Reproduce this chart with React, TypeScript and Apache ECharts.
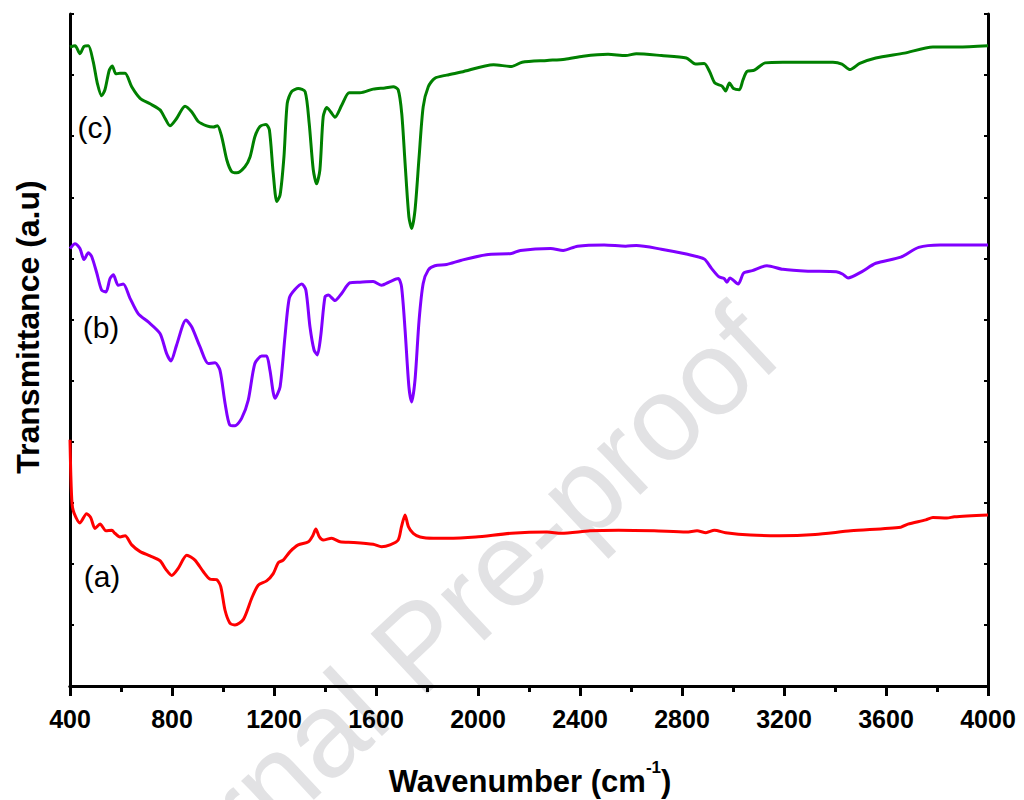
import React, { useEffect, useRef } from "react";
import * as echarts from "echarts";

// ---- data (wavenumber in cm^-1, transmittance in a.u.) ----
const waveC = [400,420,439,455,472,491,507,524,537,554,566,580,596,616,642,675,714,753,773,792,818,851,877,903,936,962,978,995,1015,1034,1054,1086,1106,1125,1145,1169,1182,1197,1211,1224,1239,1252,1269,1295,1322,1338,1354,1367,1380,1393,1407,1422,1439,1466,1495,1537,1589,1635,1668,1687,1701,1714,1729,1740,1753,1769,1785,1805,1831,1877,1935,2061,2131,2173,2271,2341,2412,2510,2579,2621,2719,2817,2853,2887,2908,2929,2957,2971,2986,3002,3025,3039,3055,3084,3126,3196,3322,3392,3427,3459,3497,3560,3672,3784,3882,4000];
const transC = [104.6,104.8,103.5,104.7,104.8,102.2,98.7,96.6,97.6,100.8,101.5,100.2,100.3,100.3,98.1,96.2,95.3,94.3,92.9,91.7,92.9,94.9,94.0,92.4,91.7,91.5,91.7,89.9,86.1,84.2,84.0,85.0,86.6,89.9,91.6,91.9,91.0,83.9,79.3,80.4,86.6,95.4,97.3,97.8,97.3,92.1,84.5,82.2,84.5,93.2,94.7,94.0,93.1,95.1,97.1,97.1,97.7,97.9,98.1,97.6,93.7,85.6,76.8,74.9,77.9,86.6,94.8,98.1,99.5,100.0,100.5,101.7,101.4,102.1,102.4,102.6,103.1,103.4,103.2,103.5,103.2,102.8,101.8,101.9,100.6,98.7,98.2,97.4,98.7,97.8,97.6,99.2,100.6,100.8,102.0,102.1,102.1,102.1,101.8,100.9,101.9,102.8,103.6,104.6,104.6,104.8];

const waveB = [400,420,439,455,472,485,505,524,541,557,570,589,609,635,668,707,753,779,796,818,855,877,910,942,969,988,1008,1027,1047,1073,1099,1125,1152,1171,1184,1204,1224,1243,1260,1282,1309,1325,1341,1357,1370,1383,1400,1413,1439,1466,1498,1537,1589,1622,1655,1687,1700,1714,1729,1740,1753,1769,1785,1805,1831,1877,1935,2033,2131,2166,2285,2334,2390,2495,2579,2621,2719,2817,2887,2915,2944,2965,2976,2988,3020,3042,3076,3133,3196,3294,3405,3431,3451,3504,3560,3658,3728,3812,3910,4000];
const transB = [71.6,72.4,71.6,69.8,70.9,70.3,67.6,64.8,64.5,66.7,67.3,65.6,65.8,63.5,60.9,59.6,57.7,54.4,53.2,55.8,59.9,58.8,55.5,52.8,52.9,51.7,46.3,42.7,42.6,43.8,46.8,52.8,54.0,54.0,51.7,47.1,49.0,57.2,63.5,64.9,65.8,64.8,58.8,55.0,54.2,57.2,63.7,64.0,63.1,64.3,66.0,66.1,66.2,65.6,66.2,66.7,65.4,58.3,49.0,46.5,50.1,59.9,65.9,68.1,68.8,69.0,69.7,70.6,70.8,71.3,71.6,71.3,72.0,72.2,72.0,72.1,71.5,70.7,69.9,68.4,67.0,66.7,66.1,66.8,65.8,67.6,68.0,68.8,68.2,67.9,67.8,67.4,66.8,67.8,69.2,70.2,71.8,72.2,72.2,72.2];

const waveA = [400,403,408,416,439,465,481,498,518,541,564,576,596,616,642,675,714,753,776,799,825,858,890,923,949,975,991,1008,1027,1047,1080,1113,1138,1171,1197,1217,1236,1263,1295,1335,1352,1364,1378,1393,1426,1459,1511,1589,1622,1655,1687,1700,1714,1727,1746,1773,1825,1877,1991,2131,2271,2327,2439,2551,2691,2817,2859,2894,2927,2971,3069,3182,3322,3462,3658,3686,3756,3784,3839,3868,4000];
const transA = [40.3,34.8,29.9,28.3,26.7,28.2,27.6,25.8,26.5,25.4,25.5,25.0,24.4,24.6,23.1,22.0,21.3,20.5,19.1,18.1,19.3,21.4,20.6,18.7,17.5,17.4,16.3,12.4,10.3,10.0,10.9,14.4,16.5,17.2,18.4,20.2,20.6,22.0,23.1,23.6,24.6,25.7,24.4,23.9,24.2,23.6,23.5,23.2,22.8,23.1,23.9,26.1,28.0,26.1,25.0,24.4,24.2,24.2,24.4,25.0,25.2,25.0,25.4,25.5,25.4,25.2,25.4,25.1,25.5,25.1,24.7,24.6,24.8,25.4,26.0,26.5,27.2,27.6,27.5,27.7,28.0];

const seriesNames = ["(a)", "(b)", "(c)"];
const seriesColors = ["#ff0000", "#8000ff", "#008000"];
const xTickMin = 400;
const xTickMax = 4000;
const xTickStep = 400;
const yMin = 0;
const yMax = 110;
const yStep = 10;

const FONT = "'Liberation Sans', Arial, sans-serif";

function zip(xs: number[], ys: number[]) {
  return xs.map((x, i) => [x, ys[i]]);
}

export default function App() {
  const ref = useRef<HTMLDivElement>(null);
  useEffect(() => {
    if (!ref.current) return;
    const chart = echarts.init(ref.current, null, { renderer: "svg" });
    const axisLine = { show: true, lineStyle: { color: "#000", width: 3 } };
    const option: any = {
      animation: false,
      backgroundColor: "#fff",
      grid: { left: 70, right: 36, top: 14, bottom: 114, containLabel: false },
      xAxis: [
        {
          type: "value",
          min: xTickMin,
          max: xTickMax,
          interval: xTickStep,
          position: "bottom",
          axisLine,
          axisTick: { show: true, inside: false, length: 10, lineStyle: { width: 3, color: "#000" } },
          minorTick: { show: true, splitNumber: 2, length: 6, lineStyle: { width: 3, color: "#000" } },
          axisLabel: {
            show: true,
            margin: 20,
            color: "#000",
            fontSize: 25,
            fontWeight: "bold",
            fontFamily: FONT,
            formatter: (v: number) => String(v),
          },
          splitLine: { show: false },
        },
        {
          type: "value",
          min: xTickMin,
          max: xTickMax,
          interval: xTickStep / 2,
          position: "top",
          axisLine,
          axisTick: { show: true, inside: true, length: 4, lineStyle: { width: 2, color: "#000" } },
          axisLabel: { show: false },
          splitLine: { show: false },
        },
      ],
      yAxis: [
        {
          type: "value",
          min: yMin,
          max: yMax,
          interval: yStep,
          position: "left",
          axisLine,
          axisTick: { show: true, inside: true, length: 4, lineStyle: { width: 2, color: "#000" } },
          axisLabel: { show: false },
          splitLine: { show: false },
        },
        {
          type: "value",
          min: yMin,
          max: yMax,
          interval: yStep,
          position: "right",
          axisLine,
          axisTick: { show: true, inside: true, length: 4, lineStyle: { width: 2, color: "#000" } },
          axisLabel: { show: false },
          splitLine: { show: false },
        },
      ],
      series: [
        { name: seriesNames[0], data: zip(waveA, transA), color: seriesColors[0] },
        { name: seriesNames[1], data: zip(waveB, transB), color: seriesColors[1] },
        { name: seriesNames[2], data: zip(waveC, transC), color: seriesColors[2] },
      ].map((s) => ({
        type: "line",
        name: s.name,
        data: s.data,
        xAxisIndex: 0,
        yAxisIndex: 0,
        showSymbol: false,
        smooth: 0.25,
        lineStyle: { color: s.color, width: 3 },
        itemStyle: { color: s.color },
        z: 3,
      })),
      graphic: [
        {
          type: "text",
          z: -10,
          x: 418,
          y: 645,
          rotation: (43 * Math.PI) / 180,
          silent: true,
          style: {
            text: "Journal Pre-proof",
            fontSize: 120,
            fontFamily: FONT,
            fill: "#e2e2e4",
            align: "center",
            verticalAlign: "middle",
          },
        },
        {
          type: "text",
          x: 28,
          y: 327,
          rotation: Math.PI / 2,
          style: {
            text: "Transmittance (a.u)",
            fontSize: 32,
            fontWeight: "bold",
            fontFamily: FONT,
            fill: "#000",
            align: "center",
            verticalAlign: "middle",
          },
        },
        {
          type: "text",
          x: 530,
          y: 778,
          style: {
            text: "{m|Wavenumber (cm}{s|-1}{m|)}",
            align: "center",
            verticalAlign: "middle",
            rich: {
              m: { fontSize: 31, fontWeight: "bold", fontFamily: FONT, fill: "#000", lineHeight: 38, verticalAlign: "bottom" },
              s: { fontSize: 17, fontWeight: "bold", fontFamily: FONT, fill: "#000", lineHeight: 17, verticalAlign: "top" },
            },
          },
        },
        {
          type: "text",
          x: 95,
          y: 127,
          style: { text: seriesNames[2], fontSize: 30, fontFamily: FONT, fill: "#000", align: "center", verticalAlign: "middle" },
        },
        {
          type: "text",
          x: 101,
          y: 327,
          style: { text: seriesNames[1], fontSize: 30, fontFamily: FONT, fill: "#000", align: "center", verticalAlign: "middle" },
        },
        {
          type: "text",
          x: 102,
          y: 576,
          style: { text: seriesNames[0], fontSize: 30, fontFamily: FONT, fill: "#000", align: "center", verticalAlign: "middle" },
        },
      ],
    };
    chart.setOption(option);
    return () => chart.dispose();
  }, []);
  return (
    <div
      ref={ref}
      style={{ position: "fixed", left: 0, top: 0, width: 1024, height: 800, background: "#fff" }}
    />
  );
}
